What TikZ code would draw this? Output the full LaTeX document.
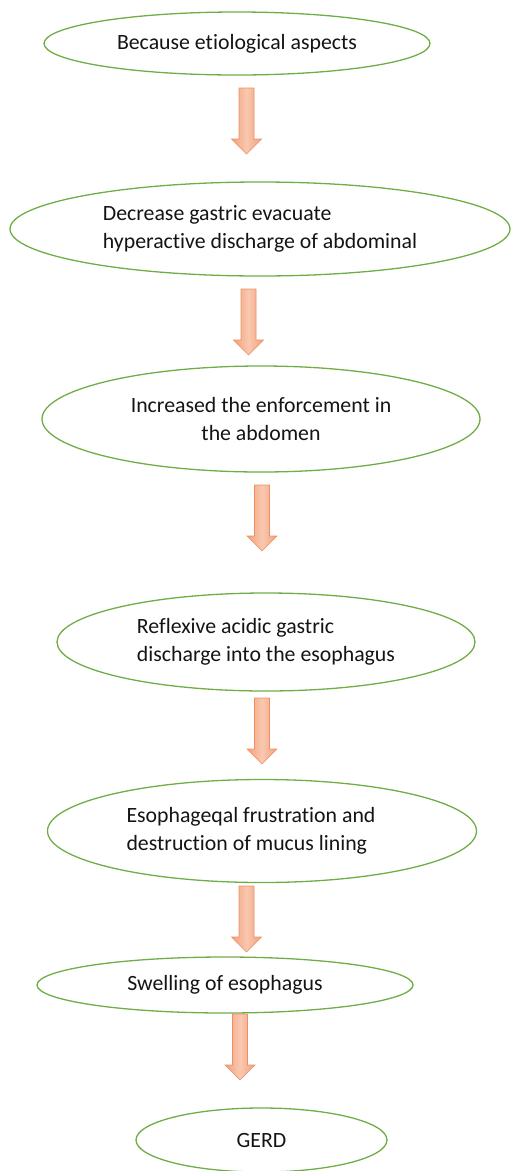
\documentclass[tikz,border=0pt]{standalone}
\usepackage{fontspec}
\setmainfont{Carlito}[RawFeature=-liga]
\usepackage{tikz}
\usetikzlibrary{shapes.geometric}
\definecolor{ringc}{HTML}{70AD47}
\definecolor{arrowc}{HTML}{F4A07A}
\definecolor{arrowl}{HTML}{F9C8B0}
\definecolor{arrowd}{HTML}{EC9064}
\definecolor{inkc}{HTML}{141414}
\tikzset{
  stage/.style={draw=ringc, line width=1.3pt, ellipse, inner sep=0pt, text=inkc, font=\fontsize{21.8}{28.5}\selectfont},
  stagetext/.style={inner sep=0pt, text=inkc, align=left, font=\fontsize{21.8}{28.5}\selectfont},
  flow/.style={draw=arrowd, line width=0.6pt, line join=miter, left color=arrowc, right color=arrowc, middle color=arrowl},
}

\begin{document}
\begin{tikzpicture}[x=1pt, y=-1pt]
\useasboundingbox (0,0) rectangle (511,1171);
\node[stage, minimum width=386pt, minimum height=63pt] (cause) at (237,43.5) {Because etiological aspects};
\node[stage, minimum width=500pt, minimum height=94pt, align=left] (evac) at (260,229) {Decrease gastric evacuate\\hyperactive discharge of abdominal};
\node[stage, minimum width=438pt, minimum height=106pt, align=center] (force) at (261,419) {Increased the enforcement in\\the abdomen};
\node[stage, minimum width=418pt, minimum height=98pt, align=left] (reflux) at (266,642) {Reflexive acidic gastric\\discharge into the esophagus};
\node[stage, minimum width=429pt, minimum height=103pt] (mucus) at (262,831) {};
\node[stagetext] (mucustext) at ([xshift=-11pt]mucus.center) {Esophageqal frustration and\\destruction of mucus lining};
\node[stage, minimum width=376pt, minimum height=56pt] (swell) at (225,985) {Swelling of esophagus};
\node[stage, minimum width=251pt, minimum height=64pt] (gerd) at (261.5,1140) {GERD};
% block arrows between the stages
\foreach \x/\t in {246.5/88, 248.5/289, 262/485, 262/698, 246.5/886, 240/1014}
  \path[flow] (\x-7.5,\t) -- (\x+7.5,\t) -- (\x+7.5,\t+51) -- (\x+15,\t+51) -- (\x,\t+66) -- (\x-15,\t+51) -- (\x-7.5,\t+51) -- cycle;
\end{tikzpicture}
\end{document}
